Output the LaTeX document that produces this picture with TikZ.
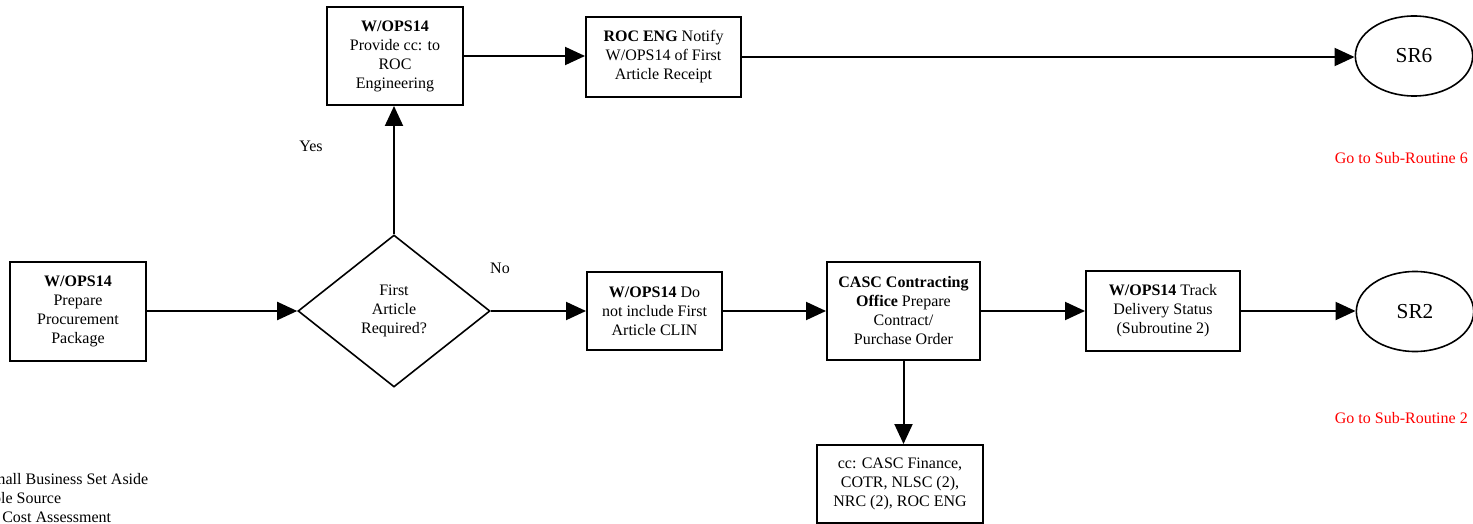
\documentclass[tikz,border=0pt]{standalone}
\usepackage{fontspec}
\setmainfont{Liberation Serif}
\usetikzlibrary{arrows.meta,shapes.geometric}
\tikzset{
  every node/.style={font=\fontsize{12}{14.25}\selectfont},
  box/.style={draw, line width=1.5pt, align=center, inner sep=2pt},
  decision/.style={draw, shape=diamond, line width=1.2pt, align=center, inner sep=0pt, minimum width=144pt, minimum height=114pt},
  sub/.style={draw, shape=ellipse, line width=1.2pt, inner sep=0pt, minimum width=88pt, minimum height=60pt, font=\fontsize{16}{18}\selectfont},
  flow/.style={line width=1.5pt, -{Triangle[length=15pt,width=13.5pt]}},
  redlabel/.style={text=red, anchor=east, inner sep=0pt},
  legend/.style={anchor=west, inner sep=0pt}
}
\begin{document}
\begin{tikzpicture}[x=0.75pt,y=-0.75pt]
\useasboundingbox (0,0) rectangle (1473,524);

\node[box, minimum width=102pt, minimum height=74.25pt] (A) at (78,311) {\textbf{W/OPS14}\\Prepare\\Procurement\\Package};
\node[decision] (Q) at (394,311) {First\\Article\\Required?};
\node[box, minimum width=102pt, minimum height=73.5pt] (B) at (395,56) {\textbf{W/OPS14}\\Provide cc: to\\ROC\\Engineering};
\node[box, minimum width=116.25pt, minimum height=60pt] (C) at (663.5,57) {\textbf{ROC ENG} Notify\\W/OPS14 of First\\Article Receipt};
\node[box, minimum width=101.25pt, minimum height=58.5pt] (D) at (654.5,311) {\textbf{W/OPS14} Do\\not include First\\Article CLIN};
\node[box, minimum width=114.75pt, minimum height=73.5pt] (E) at (903.5,311) {\textbf{CASC Contracting}\\\textbf{Office} Prepare\\Contract/\\Purchase Order};
\node[box, minimum width=115.5pt, minimum height=60pt] (F) at (1163,311) {\textbf{W/OPS14} Track\\Delivery Status\\(Subroutine 2)};
\node[box, minimum width=124.5pt, minimum height=58.5pt] (G) at (900,484) {cc: CASC Finance,\\COTR, NLSC (2),\\NRC (2), ROC ENG};
\node[sub] (SR6) at (1414,56) {SR6};
\node[sub] (SR2) at (1415,311.5) {SR2};

\node (yes) at (311,146) {Yes};
\node (no) at (500,268) {No};
\node[redlabel] (go6) at (1468,158) {Go to Sub-Routine 6};
\node[redlabel] (go2) at (1468,418) {Go to Sub-Routine 2};

\node[legend] (l1) at (-16,479) {Small Business Set Aside};
\node[legend] (l2) at (-16,498) {Sole Source};
\node[legend] (l3) at (2,517) {Cost Assessment};

\draw[flow] (A.east) -- (Q.west);
\draw[flow] (Q.north) -- (Q.north |- B.south);
\draw[flow] (B.east) -- (B.east -| C.west);
\draw[flow] (C.east) -- (C.east -| SR6.west);
\draw[flow] (Q.east) -- (D.west);
\draw[flow] (D.east) -- (D.east -| E.west);
\draw[flow] (E.east) -- (E.east -| F.west);
\draw[flow] (F.east) -- (F.east -| SR2.west);
\draw[flow] (E.south) -- (E.south |- G.north);
\end{tikzpicture}
\end{document}
